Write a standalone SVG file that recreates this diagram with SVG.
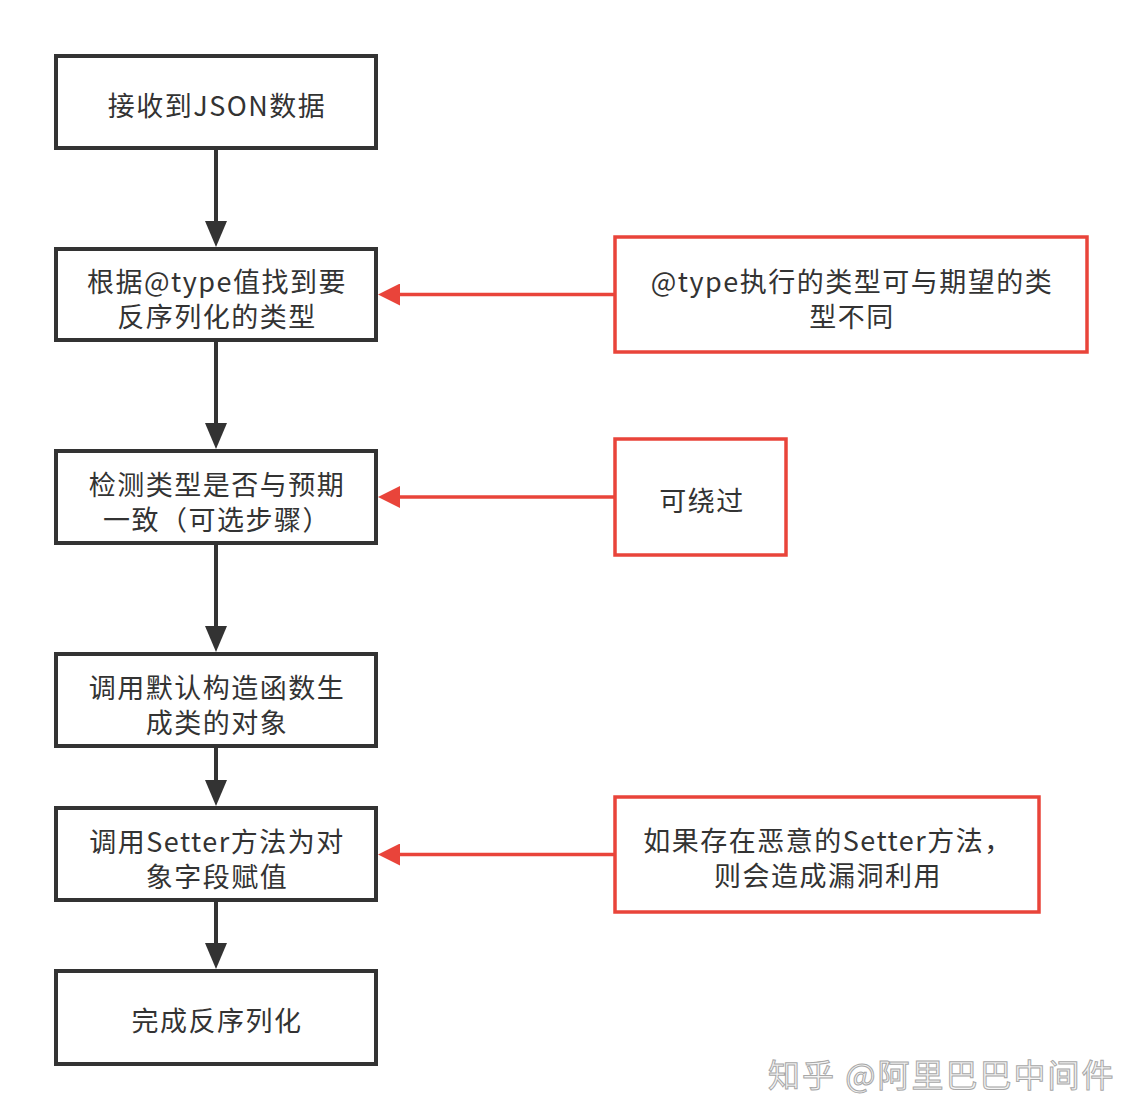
<svg xmlns="http://www.w3.org/2000/svg" width="1144" height="1120" viewBox="0 0 1144 1120">
<style>
.box{fill:#fff;stroke:#333;stroke-width:4}
.rbox{fill:#fff;stroke:#e9443a;stroke-width:3.5}
.t{font-family:"Noto Sans CJK SC","Noto Sans",sans-serif;font-size:27px;letter-spacing:1.5px;fill:#333;text-anchor:middle;dominant-baseline:central}
.bl{fill:none;stroke:#333;stroke-width:4}
.rl{fill:none;stroke:#e9443a;stroke-width:3.5}
.wm{font-family:"Noto Sans CJK SC",sans-serif;font-size:32px;letter-spacing:2px;fill:#f4f4f4;stroke:#a8a8a8;stroke-width:1;dominant-baseline:central}
</style>
<defs>
<marker id="ab" markerUnits="userSpaceOnUse" viewBox="0 0 26 22" markerWidth="26" markerHeight="22" refX="18" refY="11" orient="auto">
<path d="M0,0 L26,11 L0,22 z" fill="#333"/>
</marker>
<marker id="ar" markerUnits="userSpaceOnUse" viewBox="0 0 22 22" markerWidth="22" markerHeight="22" refX="14" refY="11" orient="auto">
<path d="M0,0 L22,11 L0,22 z" fill="#e9443a"/>
</marker>
</defs>
<rect width="1144" height="1120" fill="#fff"/>
<g id="connectors">
<path class="bl" d="M216,150 V239" marker-end="url(#ab)"/>
<path class="bl" d="M216,342 V441" marker-end="url(#ab)"/>
<path class="bl" d="M216,545 V644" marker-end="url(#ab)"/>
<path class="bl" d="M216,748 V798" marker-end="url(#ab)"/>
<path class="bl" d="M216,902 V961" marker-end="url(#ab)"/>
<path class="rl" d="M614,294.5 H386" marker-end="url(#ar)"/>
<path class="rl" d="M614,497 H386" marker-end="url(#ar)"/>
<path class="rl" d="M614,854.5 H386" marker-end="url(#ar)"/>
</g>
<g id="n1"><rect class="box" x="56" y="56" width="320" height="92"/><text class="t" x="217" y="104">接收到JSON数据</text></g>
<g id="n2"><rect class="box" x="56" y="249" width="320" height="91"/><text class="t" x="217" y="280">根据@type值找到要</text><text class="t" x="217" y="315">反序列化的类型</text></g>
<g id="n3"><rect class="box" x="56" y="451" width="320" height="92"/><text class="t" x="217" y="483">检测类型是否与预期</text><text class="t" x="217" y="518">一致（可选步骤）</text></g>
<g id="n4"><rect class="box" x="56" y="654" width="320" height="92"/><text class="t" x="217" y="686">调用默认构造函数生</text><text class="t" x="217" y="721">成类的对象</text></g>
<g id="n5"><rect class="box" x="56" y="808" width="320" height="92"/><text class="t" x="217" y="840">调用Setter方法为对</text><text class="t" x="217" y="875">象字段赋值</text></g>
<g id="n6"><rect class="box" x="56" y="971" width="320" height="93"/><text class="t" x="217" y="1019">完成反序列化</text></g>
<g id="r1"><rect class="rbox" x="615" y="237" width="472" height="115"/><text class="t" x="852" y="280">@type执行的类型可与期望的类</text><text class="t" x="852" y="315">型不同</text></g>
<g id="r2"><rect class="rbox" x="615" y="439" width="171" height="116"/><text class="t" x="702" y="499">可绕过</text></g>
<g id="r3"><rect class="rbox" x="615" y="797" width="424" height="115"/><text class="t" x="828" y="839">如果存在恶意的Setter方法，</text><text class="t" x="828" y="874">则会造成漏洞利用</text></g>
<text class="wm" x="768" y="1073">知乎 @阿里巴巴中间件</text>
</svg>
